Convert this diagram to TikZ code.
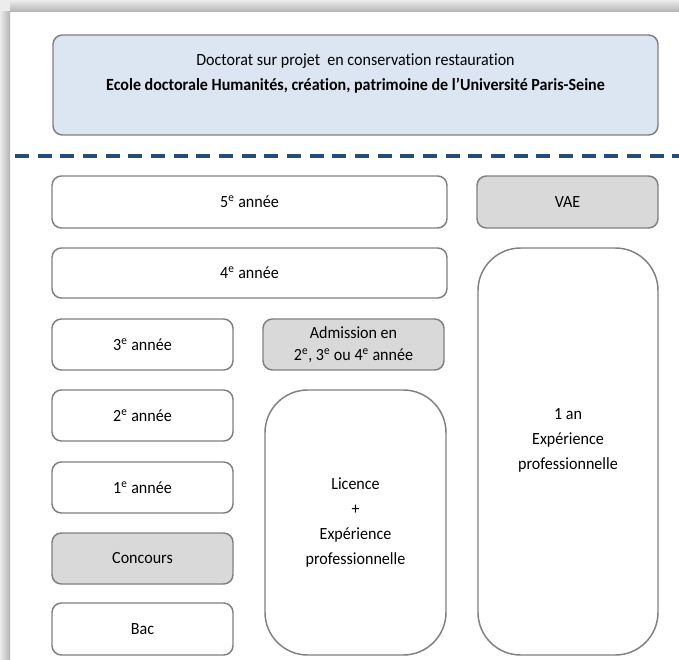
\documentclass[tikz,border=0pt]{standalone}
\usepackage{fontspec}
\setmainfont{Carlito}[Ligatures=NoCommon, FakeStretch=0.94]
\definecolor{boxline}{HTML}{808080}
\definecolor{docblue}{HTML}{DCE6F2}
\definecolor{boxgray}{HTML}{D9D9D9}
\definecolor{dashblue}{HTML}{284C7A}
\newcommand{\ee}{\textsuperscript{e}}
\begin{document}
\begin{tikzpicture}[x=0.75pt,y=-0.75pt,
	box/.style={draw=boxline, line width=1.1pt, rounded corners=7pt},
	bigbox/.style={draw=boxline, line width=1.1pt, rounded corners=32pt},
	lbl/.style={align=center, font=\fontsize{12.8}{18.75}\selectfont}]
	\useasboundingbox (0,0) rectangle (679,660);
	% page shadow
	\fill[gray!15] (0,0) rectangle (10,12);
	\shade[left color=gray!15, right color=gray!60] (0,12) rectangle (10,660);
	\shade[top color=gray!15, bottom color=gray!60] (10,0) rectangle (679,12);
	% doctorat
	\filldraw[box, fill=docblue] (53,35) rectangle node[lbl, yshift=8.5pt] (doc) {Doctorat sur projet\ \ en conservation restauration\\ \textbf{Ecole doctorale Humanités, création, patrimoine de l’Université Paris-Seine}} (658,135);
	\draw[dashblue, line width=2.3pt, dash pattern=on 10.5pt off 6.5pt] (15,156) -- (679,156);
	% cursus
	\filldraw[box, fill=white] (52,176) rectangle node[lbl] (y5) {5\ee{} année} (447,228);
	\filldraw[box, fill=boxgray] (477,176) rectangle node[lbl] (vae) {VAE} (658,228);
	\filldraw[box, fill=white] (52,248) rectangle node[lbl] (y4) {4\ee{} année} (447,298);
	\filldraw[box, fill=white] (52,319) rectangle node[lbl] (y3) {3\ee{} année} (233,370);
	\filldraw[box, fill=boxgray] (263,319) rectangle node[lbl, font=\fontsize{12.8}{17}\selectfont] (adm) {Admission en\\ 2\ee, 3\ee{} ou 4\ee{} année} (444,370);
	\filldraw[box, fill=white] (52,390) rectangle node[lbl] (y2) {2\ee{} année} (233,441);
	\filldraw[box, fill=white] (52,462) rectangle node[lbl] (y1) {1\ee{} année} (233,513);
	\filldraw[box, fill=boxgray] (52,533) rectangle node[lbl] (conc) {Concours} (233,584);
	\filldraw[box, fill=white] (52,603) rectangle node[lbl] (bac) {Bac} (233,655);
	% experience
	\filldraw[bigbox, fill=white] (265,390) rectangle node[lbl] (lic) {Licence\\ +\\ Expérience\\ professionnelle} (446,655);
	\filldraw[bigbox, fill=white] (478,248) rectangle node[lbl, yshift=8.3pt] (exp) {1 an\\ Expérience\\ professionnelle} (658,655);
\end{tikzpicture}
\end{document}
